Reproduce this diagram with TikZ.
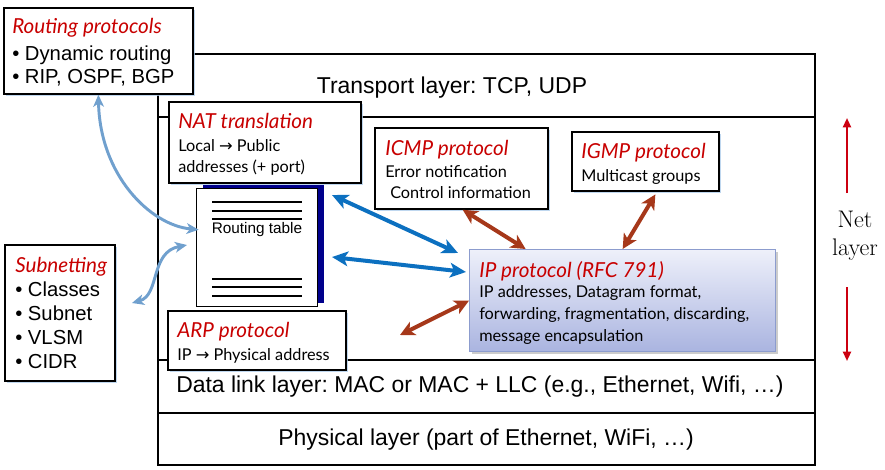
\documentclass[tikz,border=0pt]{standalone}
\usepackage{fontspec}
\newfontfamily\arial{Liberation Sans}
\newfontfamily\gill{Lato}
\newfontfamily\djv{DejaVu Sans}
\usetikzlibrary{arrows.meta,shadows}
\definecolor{titred}{RGB}{200,0,0}
\definecolor{lblue}{RGB}{112,160,206}
\definecolor{dblue}{RGB}{12,112,192}
\definecolor{rbrown}{RGB}{166,56,26}
\definecolor{netred}{RGB}{204,0,16}
\definecolor{navyb}{RGB}{0,0,140}
\definecolor{glow}{RGB}{175,205,235}
\definecolor{iptop}{RGB}{238,240,250}
\definecolor{ipbot}{RGB}{170,180,224}
\definecolor{ipdraw}{RGB}{140,156,206}
\newcommand{\rarr}{{\djv →}}
\frenchspacing
\begin{document}
\begin{tikzpicture}[x=0.75pt,y=-0.75pt,
  layer/.style={line width=1.2pt},
  box/.style={draw, line width=1.3pt, fill=white, anchor=north west, inner sep=0pt,
    drop shadow={shadow xshift=1.5pt,shadow yshift=-1.5pt,fill=glow,opacity=0.8}},
  ipbox/.style={draw=ipdraw, line width=1pt, top color=iptop, bottom color=ipbot, anchor=north west, inner sep=0pt,
    drop shadow={shadow xshift=2pt,shadow yshift=-2pt,fill=black!40,opacity=0.5}},
  ln/.style={anchor=base west, inner sep=0pt},
  ttl/.style={ln, font=\gill\itshape\fontsize{15.5}{18}\selectfont, text=titred},
  gtx/.style={ln, font=\gill\fontsize{12.2}{15}\selectfont},
  btx/.style={ln, font=\arial\fontsize{15.2}{18}\selectfont},
  lyr/.style={inner sep=0pt, font=\arial\fontsize{17.2}{20}\selectfont},
  nettx/.style={inner sep=0pt, anchor=base, font=\rmfamily\fontsize{18}{21}\selectfont},
  docline/.style={line width=1.1pt},
  lbarrow/.style={lblue, line width=2.2pt, {Stealth[length=9pt,width=8pt,inset=2.5pt]}-{Stealth[length=9pt,width=8pt,inset=2.5pt]}},
  dbarrow/.style={dblue, line width=3pt, {Stealth[length=12pt,width=11pt,inset=3pt]}-{Stealth[length=12pt,width=11pt,inset=3pt]}},
  rbarrow/.style={rbrown, line width=3pt, {Stealth[length=11pt,width=11pt,inset=3pt]}-{Stealth[length=11pt,width=11pt,inset=3pt]}},
  netarrow/.style={netred, line width=1.5pt, -{Triangle[length=7pt,width=6pt]}},
]
\useasboundingbox (0,0) rectangle (885,469);
% layer frame
\draw[layer] (158,54) rectangle (815,465);
\draw[layer] (158,117) -- (815,117);
\draw[layer] (158,360) -- (815,360);
\draw[layer] (158,413) -- (815,413);
\node[lyr] (tl) at (452,88) {Transport layer: TCP, UDP};
\node[lyr, anchor=west] (dl) at (176,387) {Data link layer: MAC or MAC + LLC (e.g., Ethernet, Wifi, …)};
\node[lyr] (pl) at (486,440) {Physical layer (part of Ethernet, WiFi, …)};
% routing protocols
\node[box, minimum width=141.75pt, minimum height=64.5pt] (rp) at (3,7) {};
\node[ttl] (rpt) at (12,33) {Routing protocols};
\node[btx] (rp1) at (12,60) {• Dynamic routing};
\node[btx] (rp2) at (12,83) {• RIP, OSPF, BGP};
% NAT
\node[box, minimum width=144pt, minimum height=60.75pt] (nat) at (168,101) {};
\node[ttl] (natt) at (178,128) {NAT translation};
\node[gtx] (nat1) at (178,151) {Local \rarr{} Public};
\node[gtx] (nat2) at (178,172) {addresses (+ port)};
% ICMP
\node[box, minimum width=129.75pt, minimum height=60.75pt] (icmp) at (374,127) {};
\node[ttl] (icmpt) at (385,155) {ICMP protocol};
\node[gtx] (icmp1) at (385,177) {Error notification};
\node[gtx] (icmp2) at (390,198) {Control information};
% IGMP
\node[box, minimum width=110.25pt, minimum height=44.25pt] (igmp) at (571,131) {};
\node[ttl] (igmpt) at (581,158) {IGMP protocol};
\node[gtx] (igmp1) at (581,181) {Multicast groups};
% IP
\node[ipbox, minimum width=229.5pt, minimum height=76.5pt] (ip) at (469,249) {};
\node[ttl] (ipt) at (479,277) {IP protocol (RFC 791)};
\node[gtx] (ip1) at (479,297) {IP addresses, Datagram format,};
\node[gtx] (ip2) at (479,319) {forwarding, fragmentation, discarding,};
\node[gtx] (ip3) at (479,341) {message encapsulation};
% ARP
\node[box, minimum width=133.5pt, minimum height=44.25pt] (arp) at (167,310) {};
\node[ttl] (arpt) at (177,337) {ARP protocol};
\node[gtx] (arp1) at (177,360) {IP \rarr{} Physical address};
% Subnetting
\node[box, minimum width=82.5pt, minimum height=102pt] (sub) at (4,244) {};
\node[ttl] (subt) at (15,272) {Subnetting};
\node[btx] (sub1) at (15,296) {• Classes};
\node[btx] (sub2) at (15,320) {• Subnet};
\node[btx] (sub3) at (15,344) {• VLSM};
\node[btx] (sub4) at (15,368) {• CIDR};
% routing table document
\node[draw, line width=1.1pt, fill=white, minimum width=90.75pt, minimum height=88.5pt, anchor=north west, inner sep=0pt,
  drop shadow={shadow xshift=4.5pt,shadow yshift=3pt,fill=navyb,opacity=1}] (rt) at (196,188) {};
\draw[docline] (212,202) -- (302,202);
\draw[docline] (212,211) -- (302,211);
\draw[docline] (212,219) -- (302,219);
\draw[docline] (212,279) -- (302,279);
\draw[docline] (212,287) -- (302,287);
\draw[docline] (212,296) -- (302,296);
\node[inner sep=0pt, font=\arial\fontsize{11.5}{14}\selectfont] (rtl) at (257,230) {Routing table};
% connectors
\coordinate (subA) at (132,303);
\coordinate (rtB) at (187,245);
\coordinate (db1a) at (332,195);
\coordinate (db1b) at (458,253);
\coordinate (db2a) at (332,257);
\coordinate (db2b) at (466,272);
\coordinate (arpA) at (400,335);
\draw[lbarrow] (rp.south) .. controls (100,175) and (150,225) .. ([xshift=2pt,yshift=13.5pt]rt.west);
\draw[lbarrow] (subA) .. controls (160,295) and (150,252) .. (rtB);
\draw[dbarrow] (db1a) -- (db1b);
\draw[dbarrow] (db2a) -- (db2b);
\draw[rbarrow] ([xshift=1pt]icmp.south) -- ([xshift=-72.75pt]ip.north);
\draw[rbarrow] ([xshift=7.5pt,yshift=-2pt]igmp.south) -- (ip.north);
\draw[rbarrow] (arpA) -- (ip.west);
% net layer
\coordinate (nu1) at (847,193);
\coordinate (nu2) at (847,118);
\coordinate (nd1) at (847,287);
\coordinate (nd2) at (847,361);
\draw[netarrow] (nu1) -- (nu2);
\draw[netarrow] (nd1) -- (nd2);
\node[nettx] (net1) at (855,227) {Net};
\node[nettx] (net2) at (855,255) {layer};
\end{tikzpicture}
\end{document}
